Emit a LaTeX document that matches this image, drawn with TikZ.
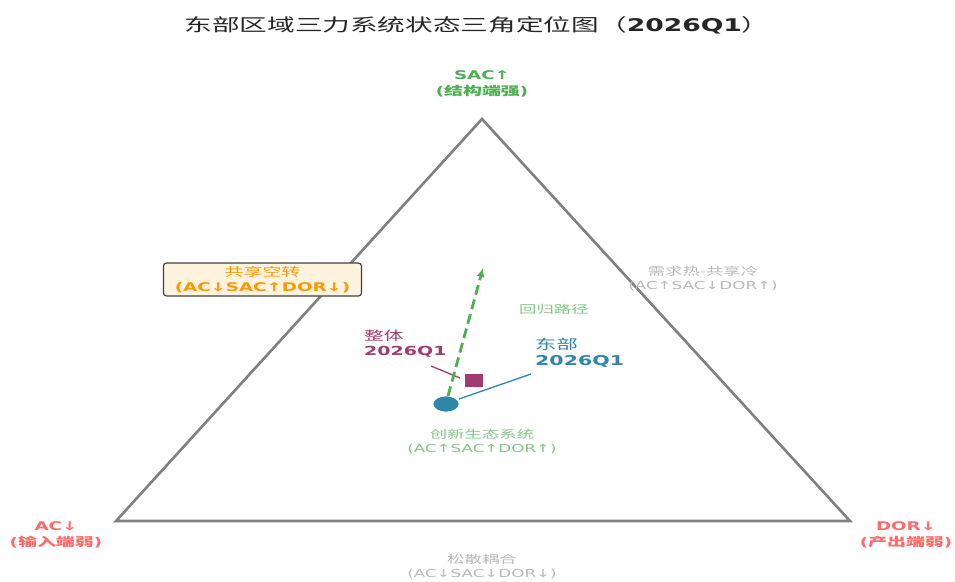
\documentclass[tikz,border=0pt]{standalone}
\usepackage{fontspec}
\setmainfont[FakeStretch=1.52]{DejaVu Sans}
\newfontfamily\cjk[FakeStretch=1.58]{Noto Sans CJK SC}
\usetikzlibrary{arrows.meta,shapes.geometric}
\definecolor{tri}{HTML}{808080}
\definecolor{gsac}{HTML}{4CAF50}
\definecolor{glight}{HTML}{81C784}
\definecolor{rac}{HTML}{FF6B6B}
\definecolor{orng}{HTML}{FF9800}
\definecolor{orfill}{HTML}{FFF3E0}
\definecolor{purp}{HTML}{A23B72}
\definecolor{blu}{HTML}{2E86AB}
\definecolor{lgray}{HTML}{B8B8B8}
\tikzset{
  lbl/.style={align=center, inner sep=0pt, font=\fontsize{11}{14}\selectfont},
  vtx/.style={align=center, inner sep=0pt, font=\fontsize{12}{15.5}\selectfont\bfseries},
}
\begin{document}
\begin{tikzpicture}[x=1pt,y=-1pt]
\useasboundingbox (0,0) rectangle (955,581);
% title
\node[inner sep=0pt, font=\fontsize{17.5}{20}\selectfont, text=black!85] (title) at (477,25)
  {{\cjk 东部区域三力系统状态三角定位图（}\textbf{2026Q1}{\cjk ）}};
% triangle
\coordinate (T) at (482,119);
\coordinate (L) at (116,521);
\coordinate (R) at (850,521);
\draw[tri, line width=2.6pt, line join=miter] (T) -- (L) -- (R) -- cycle;
% vertex labels
\node[vtx, text=gsac] (sac) at (482,84) {SAC↑\\({\cjk 结构端强})};
\node[vtx, text=rac] (ac) at (56,535) {AC↓\\({\cjk 输入端弱})};
\node[vtx, text=rac] (dor) at (906,535) {DOR↓\\({\cjk 产出端弱})};
% region labels
\node[draw=black!75, line width=1.2pt, fill=orfill, rounded corners=3pt, minimum width=198pt, minimum height=33pt, align=center, inner sep=0pt, text=orng, font=\fontsize{12}{15}\selectfont] (share) at (262.5,279.5)
  {{\cjk 共享空转}\\\textbf{(AC↓SAC↑DOR↓)}};
\node[lbl, text=lgray] (hot) at (703,279) {{\cjk 需求热-共享冷}\\(AC↑SAC↓DOR↑)};
\node[lbl, text=glight] (eco) at (482,442) {{\cjk 创新生态系统}\\(AC↑SAC↑DOR↑)};
\node[lbl, text=lgray] (loose) at (482,567) {{\cjk 松散耦合}\\(AC↓SAC↓DOR↓)};
\node[lbl, text=glight, anchor=west] (path) at (519,309) {{\cjk 回归路径}};
% points
\node[fill=purp, minimum width=18pt, minimum height=13pt, inner sep=0pt] (whole) at (474,380) {};
\node[fill=blu, ellipse, minimum width=26pt, minimum height=16pt, inner sep=0pt, draw=white, line width=0.6pt] (east) at (446,404) {};
% point labels
\node[align=left, anchor=west, inner sep=0pt, text=purp, font=\fontsize{12.5}{15}\selectfont] (wlab) at (364,344) {{\cjk 整体}\\\textbf{2026Q1}};
\node[align=left, anchor=west, inner sep=0pt, text=blu, font=\fontsize{13.5}{16}\selectfont] (elab) at (535,353) {{\cjk 东部}\\\textbf{2026Q1}};
\coordinate (wl) at (431,366);
\coordinate (wp) at (460,378);
\coordinate (el) at (531,374);
\coordinate (ep) at (459,399);
\draw[purp, line width=1.3pt] (wl) -- (wp);
\draw[blu, line width=1.3pt] (el) -- (ep);
% return path
\coordinate (ps) at (448,396);
\coordinate (pe) at (483,268);
\draw[gsac, line width=2.8pt, dash pattern=on 10pt off 5pt, -{Latex[length=9pt,width=8pt]}] (ps) -- (pe);
\end{tikzpicture}
\end{document}
